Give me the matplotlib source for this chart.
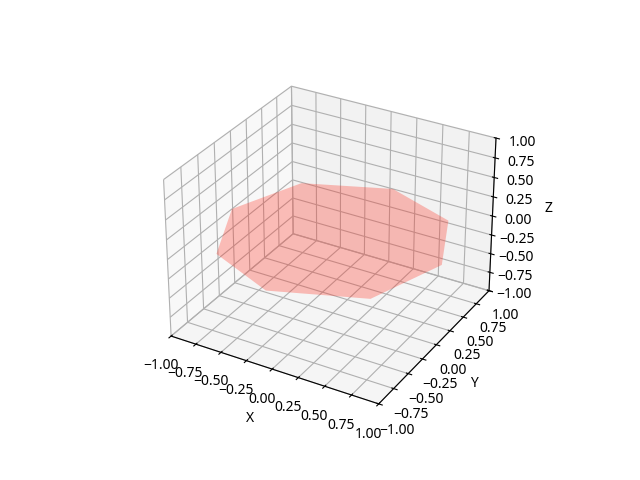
import matplotlib
matplotlib.use("Agg")
import matplotlib.pyplot as plt
from mpl_toolkits.mplot3d.art3d import Poly3DCollection

plt.rcParams["font.family"] = ["Noto Sans", "DejaVu Sans"]

# polygon outline
xs = [1.00, 0.71, 0.03, -0.72, -1.00, -0.70, -0.04, 0.75]
ys = [0.055, 0.74, 1.00, 0.69, -0.01, -0.72, -1.01, -0.70]
zs = [0, 0, 0, 0, 0, 0, 0, 0]

fig = plt.figure(figsize=(6.4, 4.8), dpi=100)
ax = fig.add_subplot(111, projection="3d")

poly = Poly3DCollection([list(zip(xs, ys, zs))], facecolor="#ff3020", edgecolor="none", alpha=0.3)
ax.add_collection3d(poly)

ax.set_xlim(-1, 1)
ax.set_ylim(-1, 1)
ax.set_zlim(-1, 1)
ax.set_xlabel("X")
ax.set_ylabel("Y")
ax.set_zlabel("Z")

fig.savefig("out.png", dpi=100)
